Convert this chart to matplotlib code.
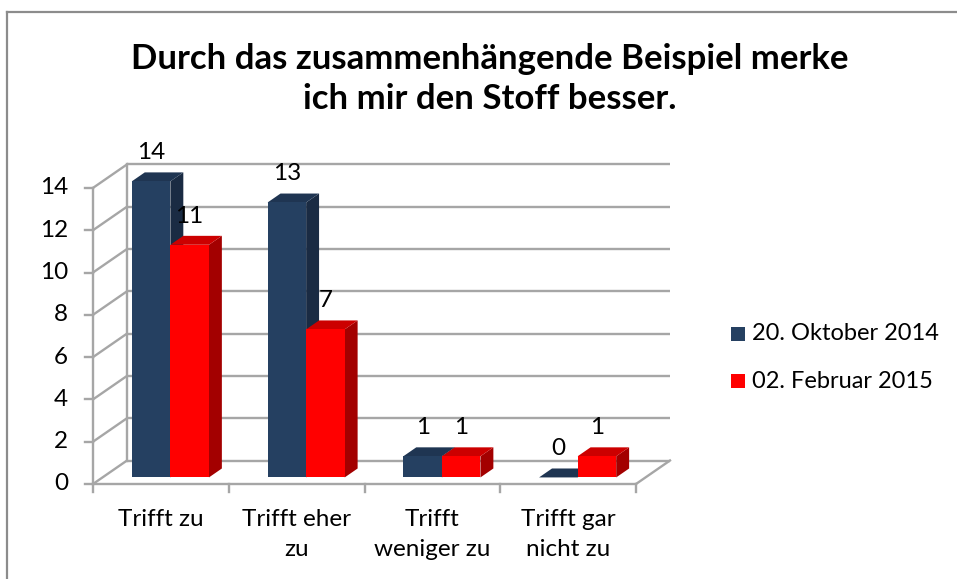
import matplotlib
matplotlib.use("Agg")
import matplotlib.pyplot as plt
from matplotlib.patches import Polygon

categories = ["Trifft zu", "Trifft eher\nzu", "Trifft\nweniger zu", "Trifft gar\nnicht zu"]
series_names = ["20. Oktober 2014", "02. Februar 2015"]
oct_2014 = [14, 13, 1, 0]
feb_2015 = [11, 7, 1, 1]
y_ticks = [0, 2, 4, 6, 8, 10, 12, 14]
title = "Durch das zusammenhängende Beispiel merke\nich mir den Stoff besser."

FONT = "Lato"
FS = 17.5
W, H = 957, 579
fig = plt.figure(figsize=(W / 100, H / 100), dpi=100)
ax = fig.add_axes([0, 0, 1, 1])

# pixel mapping: x data 0 -> px 93, 1 unit = 135.75 px ; y data 0 -> py 484, 1 unit = 21.15 px
X0, XU = 93.0, 135.75
Y0, YU = 484.0, 21.15
ax.set_xlim(-X0 / XU, (W - X0) / XU)
ax.set_ylim(-(H - Y0) / YU, Y0 / YU)
ax.axis("off")

DX = 34.0 / XU   # depth offset of the back wall (data units)
DY = 23.5 / YU
ncat = len(categories)
grid_c = "#a6a6a6"
glw = 1.7

# back wall gridlines + side wall diagonals
for v in y_ticks:
    ax.plot([DX, ncat + DX], [v + DY, v + DY], color=grid_c, lw=glw, solid_capstyle="butt", zorder=1)
    ax.plot([0, DX], [v, v + DY], color=grid_c, lw=glw, zorder=1)
    ax.plot([-8 / XU, 0], [v, v], color=grid_c, lw=glw, zorder=1)
    ax.text(-25 / XU, v, str(v), ha="right", va="center", fontsize=FS, family=FONT, color="black")
ax.plot([DX, DX], [DY, max(y_ticks) + DY], color=grid_c, lw=glw, zorder=1)
ax.plot([0, 0], [0, max(y_ticks)], color=grid_c, lw=glw, zorder=1)
# floor
ax.plot([0, ncat], [0, 0], color=grid_c, lw=glw, zorder=1)
ax.plot([ncat, ncat + DX], [0, DY], color=grid_c, lw=glw, zorder=1)
for i in range(ncat + 1):
    ax.plot([i, i], [0, -8 / YU], color=grid_c, lw=glw, zorder=1)

# bars
bw = 0.284
d0, d1 = 0.28, 0.66
colors = [("#254061", "#1f3552", "#1a2b43"), ("#ff0000", "#cc0000", "#a30000")]
for s, vals in enumerate([oct_2014, feb_2015]):
    front, top, side = colors[s]
    for i, v in enumerate(vals):
        xl = i + 0.5 - bw + s * bw + d0 * DX
        xr = xl + bw
        yb = d0 * DY
        ddx = (d1 - d0) * DX
        ddy = (d1 - d0) * DY
        zs = 3 + i * 2 + s
        ax.add_patch(Polygon([[xr, yb], [xr + ddx, yb + ddy], [xr + ddx, yb + v + ddy], [xr, yb + v]],
                             closed=True, fc=side, ec="none", zorder=zs))
        ax.add_patch(Polygon([[xl, yb + v], [xr, yb + v], [xr + ddx, yb + v + ddy], [xl + ddx, yb + v + ddy]],
                             closed=True, fc=top, ec="none", zorder=zs))
        ax.bar(xl, v, width=bw, bottom=yb, align="edge", color=front, edgecolor="none", zorder=zs)
        ax.text(xl + bw / 2, yb + v + 1.35, str(v), ha="center", va="center", fontsize=FS, family=FONT,
                zorder=20)

# category labels
for i, c in enumerate(categories):
    ax.text(i + 0.5, -(509 - Y0) / YU, c, ha="center", va="top", fontsize=FS, family=FONT, linespacing=1.5)

# title
fig.text(490 / W, 1 - 79 / H, title, ha="center", va="center", fontsize=25, fontweight="bold",
         family=FONT, linespacing=1.3)

# legend
for s, name in enumerate(series_names):
    yy = 334 + s * 47
    fig.patches.append(plt.Rectangle((731 / W, 1 - (yy + 7) / H), 14 / W, 14 / H, transform=fig.transFigure,
                                     fc=colors[s][0], ec="none"))
    fig.text(752 / W, 1 - yy / H, name, ha="left", va="center", fontsize=17, family=FONT)

# chart border (left and top)
fig.add_artist(plt.Line2D([7.5 / W, 7.5 / W], [0, 1 - 12 / H], color="#8c8c8c", lw=1.6, transform=fig.transFigure))
fig.add_artist(plt.Line2D([7.5 / W, 1], [1 - 12 / H, 1 - 12 / H], color="#8c8c8c", lw=1.6, transform=fig.transFigure))

fig.savefig("out.png", dpi=100)
